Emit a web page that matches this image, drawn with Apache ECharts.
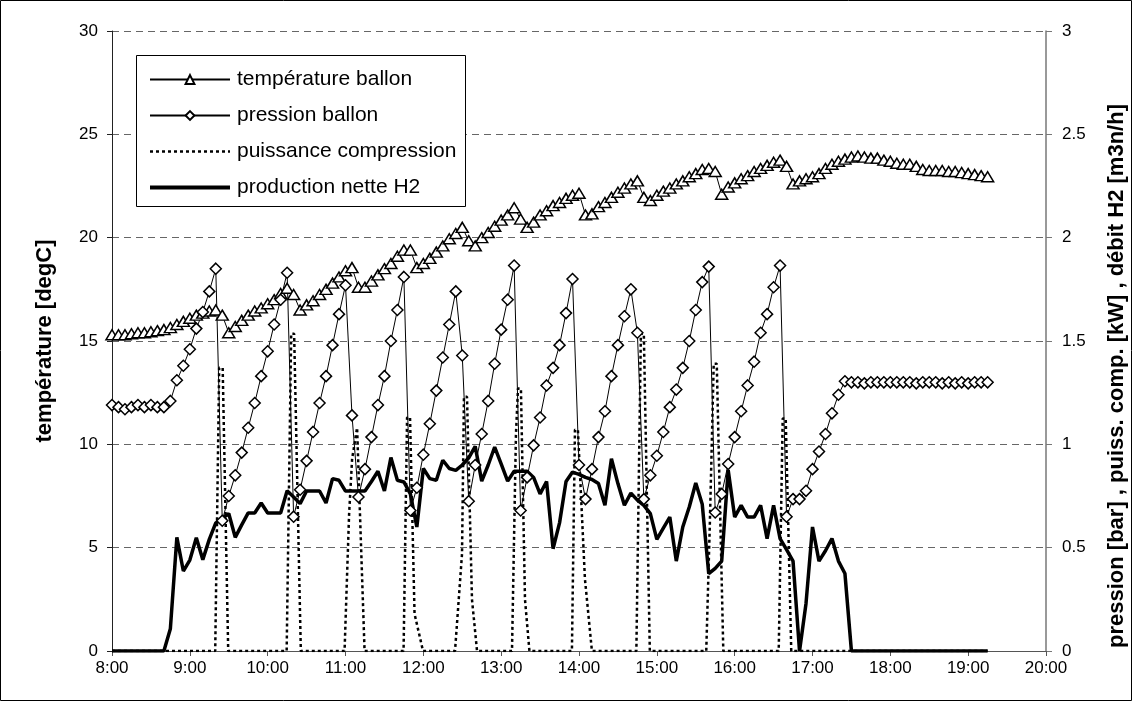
<!DOCTYPE html>
<html>
<head>
<meta charset="utf-8">
<title>Ballon H2</title>
<script src="https://cdn.jsdelivr.net/npm/echarts/dist/echarts.min.js"></script>
<style>
  html, body { margin: 0; padding: 0; background: #fff; }
  #chart { width: 1133px; height: 702px; }
</style>
</head>
<body>
<div id="chart"></div>
<script>
// --- Données (pas de 5 min à partir de 8:00) ---
const startHour = 8;
const stepMinutes = 5;

// température ballon [degC]
const temperature = [
  15.3, 15.3, 15.3, 15.35, 15.4, 15.4, 15.45, 15.5, 15.55, 15.65,
  15.8, 15.95, 16.1, 16.25, 16.35, 16.45, 16.5, 16.25, 15.4, 15.7,
  16.0, 16.25, 16.45, 16.6, 16.8, 17.0, 17.3, 17.55, 17.25, 16.5,
  16.75, 16.95, 17.25, 17.5, 17.8, 18.1, 18.4, 18.55, 17.6, 17.6,
  17.9, 18.2, 18.5, 18.75, 19.1, 19.4, 19.4, 18.55, 18.75, 19.0,
  19.3, 19.6, 19.95, 20.2, 20.5, 19.85, 19.6, 20.0, 20.25, 20.55,
  20.85, 21.1, 21.45, 20.9, 20.5, 20.75, 21.1, 21.3, 21.55, 21.7,
  21.9, 22.05, 22.15, 21.1, 21.15, 21.5, 21.7, 21.95, 22.2, 22.4,
  22.6, 22.75, 21.95, 21.8, 22.05, 22.25, 22.4, 22.6, 22.75, 22.95,
  23.1, 23.3, 23.35, 23.2, 22.1, 22.45, 22.65, 22.85, 23.0, 23.2,
  23.35, 23.5, 23.65, 23.75, 23.45, 22.6, 22.75, 22.85, 22.95, 23.1,
  23.35, 23.55, 23.7, 23.8, 23.9, 23.95, 23.9, 23.85, 23.85, 23.75,
  23.7, 23.6, 23.55, 23.55, 23.45, 23.3, 23.25, 23.25, 23.25, 23.2,
  23.2, 23.15, 23.1, 23.05, 23.0, 22.95
];

// pression ballon [bar]
const pression = [
  1.19, 1.18, 1.17, 1.18, 1.19, 1.18, 1.19, 1.18, 1.18, 1.21,
  1.31, 1.38, 1.46, 1.56, 1.64, 1.74, 1.85, 0.63, 0.75, 0.85,
  0.96, 1.08, 1.20, 1.33, 1.45, 1.58, 1.70, 1.83, 0.65, 0.78,
  0.92, 1.06, 1.20, 1.33, 1.48, 1.63, 1.77, 1.14, 0.745, 0.88,
  1.035, 1.19, 1.33, 1.50, 1.65, 1.81, 0.68, 0.79, 0.95, 1.10,
  1.26, 1.42, 1.58, 1.74, 1.43, 0.725, 0.90, 1.05, 1.21, 1.39,
  1.555, 1.70, 1.865, 0.68, 0.84, 0.995, 1.13, 1.285, 1.37, 1.48,
  1.635, 1.80, 0.90, 0.735, 0.88, 1.035, 1.16, 1.33, 1.48, 1.62,
  1.75, 1.54, 0.735, 0.85, 0.945, 1.06, 1.18, 1.265, 1.37, 1.50,
  1.65, 1.785, 1.86, 0.67, 0.76, 0.905, 1.035, 1.16, 1.285, 1.40,
  1.54, 1.63, 1.76, 1.865, 0.65, 0.735, 0.735, 0.775, 0.88, 0.965,
  1.05, 1.15, 1.24, 1.305, 1.30, 1.30, 1.295, 1.30, 1.30, 1.30,
  1.30, 1.30, 1.30, 1.30, 1.295, 1.30, 1.30, 1.30, 1.295, 1.30,
  1.295, 1.30, 1.295, 1.30, 1.30, 1.30
];

// production nette H2 [m3n/h]
const production = [
  0, 0, 0, 0, 0, 0, 0, 0, 0, 0.108,
  0.55, 0.387, 0.44, 0.548, 0.442, 0.54, 0.62, 0.64, 0.665, 0.55,
  0.61, 0.668, 0.668, 0.716, 0.668, 0.668, 0.668, 0.775, 0.745, 0.713,
  0.774, 0.774, 0.774, 0.716, 0.834, 0.826, 0.774, 0.774, 0.774, 0.774,
  0.82, 0.87, 0.774, 0.936, 0.826, 0.818, 0.76, 0.60, 0.883, 0.834,
  0.826, 0.923, 0.883, 0.874, 0.90, 0.935, 0.99, 0.822, 0.90, 0.987,
  0.905, 0.822, 0.87, 0.87, 0.87, 0.84, 0.76, 0.82, 0.495, 0.62,
  0.82, 0.866, 0.855, 0.84, 0.83, 0.81, 0.705, 0.93, 0.81, 0.705,
  0.764, 0.73, 0.705, 0.665, 0.54, 0.595, 0.648, 0.435, 0.60, 0.697,
  0.813, 0.71, 0.374, 0.40, 0.435, 0.876, 0.648, 0.705, 0.648, 0.648,
  0.705, 0.544, 0.705, 0.544, 0.49, 0.435, 0, 0.23, 0.60, 0.435,
  0.485, 0.544, 0.435, 0.375, 0, 0, 0, 0, 0, 0,
  0, 0, 0, 0, 0, 0, 0, 0, 0, 0,
  0, 0, 0, 0, 0, 0
];

// puissance compression [kW] : instants (heures décimales) et valeurs
const compTime = [
  8.0,
  9.326, 9.377, 9.422, 9.493,
  10.244, 10.302, 10.340, 10.426,
  10.988, 11.046, 11.085, 11.149, 11.245,
  11.746, 11.791, 11.829, 11.887, 11.996,
  12.407, 12.497, 12.522, 12.561, 12.625, 12.690,
  13.139, 13.190, 13.216, 13.254, 13.306, 13.363,
  13.909, 13.948, 13.986, 14.076, 14.166,
  14.737, 14.795, 14.833, 14.910,
  15.635, 15.680, 15.731, 15.770, 15.854,
  16.566, 16.617, 16.656, 16.727,
  19.25
];
const compPower = [
  0,
  0, 1.37, 1.37, 0,
  0, 1.535, 1.535, 0,
  0, 0.66, 0.93, 1.08, 0,
  0, 1.13, 1.13, 0.18, 0,
  0, 0.47, 1.23, 1.23, 0.25, 0,
  0, 1.05, 1.27, 1.27, 0.25, 0,
  0, 1.07, 1.07, 0.35, 0,
  0, 1.535, 1.535, 0,
  0, 0.6, 1.39, 1.39, 0,
  0, 1.125, 1.125, 0,
  0
];

const xTicks = [8, 9, 10, 11, 12, 13, 14, 15, 16, 17, 18, 19, 20];
// ---------------------------------

const sampleTime = temperature.map((_, i) => startHour + i * stepMinutes / 60);
const pairs = (xs, ys) => ys.map((y, i) => [xs[i], y]);

const FONT = '"Liberation Sans", Arial, sans-serif';
const dotted = { color: '#000', width: 2.5, type: [3, 3] };
const thick = { color: '#000', width: 3.5 };

const chart = echarts.init(document.getElementById('chart'), null, { renderer: 'canvas' });

chart.setOption({
  animation: false,
  backgroundColor: '#fff',
  textStyle: { fontFamily: FONT, color: '#000' },
  grid: { left: 112, right: 87, top: 31, bottom: 51, containLabel: false, outerBoundsMode: 'none' },
  graphic: [
    // cadre extérieur
    { type: 'rect', z: 0, silent: true,
      shape: { x: 0.5, y: 0.5, width: 1131, height: 700 },
      style: { fill: 'none', stroke: '#000', lineWidth: 1 } },
    // cadre de la légende
    { type: 'rect', z: 3, silent: true,
      shape: { x: 136.5, y: 55.5, width: 329, height: 151 },
      style: { fill: '#fff', stroke: '#000', lineWidth: 1 } },
    // titre de l'axe de droite
    { type: 'text', z: 3, silent: true,
      x: 1117, y: 376, rotation: Math.PI / 2,
      style: {
        text: 'pression [bar] , puiss. comp. [kW] , débit H2 [m3n/h]',
        font: 'bold 22px ' + FONT, fill: '#000',
        align: 'center', verticalAlign: 'middle'
      } }
  ],
  legend: {
    z: 5,
    orient: 'vertical',
    left: 143,
    top: 64,
    itemWidth: 80,
    itemHeight: 11,
    itemGap: 15,
    textStyle: { fontFamily: FONT, fontSize: 21, color: '#000', padding: [0, 0, 0, 2] },
    data: [
      { name: 'température ballon' },
      { name: 'pression ballon' },
      { name: 'puissance compression', itemStyle: { opacity: 0 }, lineStyle: dotted },
      { name: 'production nette H2', itemStyle: { opacity: 0 }, lineStyle: { color: '#000', width: 4 } }
    ]
  },
  xAxis: {
    type: 'value',
    min: xTicks[0],
    max: xTicks[xTicks.length - 1],
    interval: 1,
    axisLine: { lineStyle: { color: '#555', width: 1 } },
    axisTick: { show: true, length: 5, lineStyle: { color: '#555' } },
    axisLabel: { fontFamily: FONT, fontSize: 17, color: '#000', margin: 9,
      formatter: v => v + ':00' },
    splitLine: { show: false }
  },
  yAxis: [
    {
      type: 'value',
      min: 0, max: 30, interval: 5,
      position: 'left',
      name: 'température [degC]',
      nameLocation: 'middle',
      nameGap: 56,
      nameTextStyle: { fontFamily: FONT, fontSize: 22, fontWeight: 'bold', color: '#000' },
      axisLine: { show: true, lineStyle: { color: '#222', width: 1 } },
      axisTick: { show: true, length: 5, lineStyle: { color: '#222' } },
      axisLabel: { fontFamily: FONT, fontSize: 17, color: '#000', margin: 14 },
      splitLine: { show: true, lineStyle: { color: '#666', width: 1, type: [7, 5] } }
    },
    {
      type: 'value',
      min: 0, max: 3, interval: 0.5,
      position: 'right',
      axisLine: { show: true, lineStyle: { color: '#777', width: 1.5 } },
      axisTick: { show: true, length: 6, lineStyle: { color: '#777' } },
      axisLabel: { fontFamily: FONT, fontSize: 17, color: '#000', margin: 16 },
      splitLine: { show: false }
    }
  ],
  series: [
    {
      name: 'température ballon',
      type: 'line',
      yAxisIndex: 0,
      z: 4,
      data: pairs(sampleTime, temperature),
      symbol: 'triangle',
      symbolSize: [12, 10],
      showAllSymbol: true,
      lineStyle: { color: '#000', width: 1 },
      itemStyle: { color: '#fff', borderColor: '#000', borderWidth: 1.5 }
    },
    {
      name: 'pression ballon',
      type: 'line',
      yAxisIndex: 1,
      z: 4,
      data: pairs(sampleTime, pression),
      symbol: 'diamond',
      symbolSize: [11, 11],
      showAllSymbol: true,
      lineStyle: { color: '#000', width: 1 },
      itemStyle: { color: '#fff', borderColor: '#000', borderWidth: 1.5 }
    },
    {
      name: 'puissance compression',
      type: 'line',
      yAxisIndex: 1,
      z: 2,
      data: pairs(compTime, compPower),
      symbol: 'none',
      lineStyle: dotted,
      itemStyle: { color: '#000' }
    },
    {
      name: 'production nette H2',
      type: 'line',
      yAxisIndex: 1,
      z: 3,
      data: pairs(sampleTime, production),
      symbol: 'none',
      lineStyle: thick,
      itemStyle: { color: '#000' }
    }
  ]
});
</script>
</body>
</html>
